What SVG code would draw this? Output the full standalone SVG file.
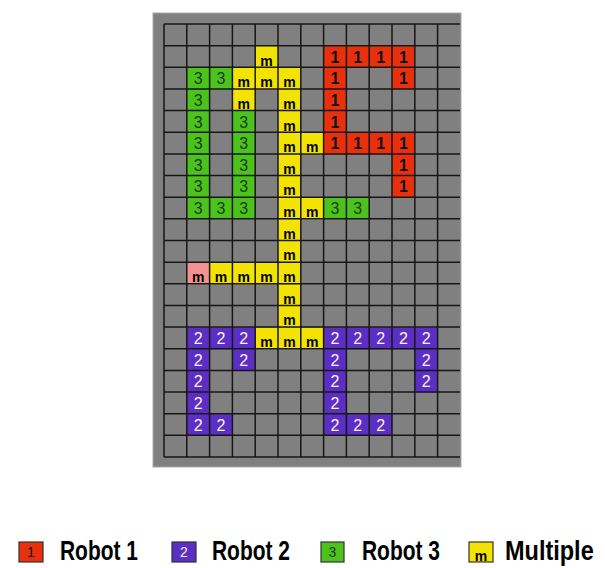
<svg xmlns="http://www.w3.org/2000/svg" width="605" height="568" viewBox="0 0 605 568">
<style>
.c rect{stroke:none}
.r1{fill:#e8300c}.r2{fill:#5b2fc4}.r3{fill:#4cc21c}.rm{fill:#f2e400}.rp{fill:#f49090}
.t{font-family:"Liberation Sans",Arial,sans-serif;font-size:16px;text-anchor:middle}
.t1{fill:#111;font-weight:bold}.t2{fill:#fff0f8}.t3{fill:#1d3a10}.tm{fill:#000;font-weight:bold;font-size:14px}
.grid line{stroke:#161616;stroke-width:1.5}
.lg{font-family:"Liberation Sans",Arial,sans-serif;font-weight:bold;font-size:27px;fill:#000}
.lb{stroke:#333;stroke-width:1.2}
.lt{font-family:"Liberation Sans",Arial,sans-serif;font-size:14px;text-anchor:middle}
</style>
<rect x="0" y="0" width="605" height="568" fill="#fff"/>
<rect id="frame" x="153" y="13" width="308" height="454" fill="#808080" stroke="#a8a8a8" stroke-width="1"/>
<g id="cells" transform="translate(164,24.5)">
<!-- Robot 1 -->
<g id="r1-7-1" class="c"><rect class="r1" x="159.6" y="21.65" width="22.8" height="21.65"/><text class="t t1" x="171" y="38">1</text></g>
<g id="r1-8-1" class="c"><rect class="r1" x="182.4" y="21.65" width="22.8" height="21.65"/><text class="t t1" x="193.8" y="38">1</text></g>
<g id="r1-9-1" class="c"><rect class="r1" x="205.2" y="21.65" width="22.8" height="21.65"/><text class="t t1" x="216.6" y="38">1</text></g>
<g id="r1-10-1" class="c"><rect class="r1" x="228" y="21.65" width="22.8" height="21.65"/><text class="t t1" x="239.4" y="38">1</text></g>
<g id="r1-7-2" class="c"><rect class="r1" x="159.6" y="43.3" width="22.8" height="21.65"/><text class="t t1" x="171" y="59.6">1</text></g>
<g id="r1-10-2" class="c"><rect class="r1" x="228" y="43.3" width="22.8" height="21.65"/><text class="t t1" x="239.4" y="59.6">1</text></g>
<g id="r1-7-3" class="c"><rect class="r1" x="159.6" y="64.95" width="22.8" height="21.65"/><text class="t t1" x="171" y="81.3">1</text></g>
<g id="r1-7-4" class="c"><rect class="r1" x="159.6" y="86.6" width="22.8" height="21.65"/><text class="t t1" x="171" y="103">1</text></g>
<g id="r1-7-5" class="c"><rect class="r1" x="159.6" y="108.25" width="22.8" height="21.65"/><text class="t t1" x="171" y="124.6">1</text></g>
<g id="r1-8-5" class="c"><rect class="r1" x="182.4" y="108.25" width="22.8" height="21.65"/><text class="t t1" x="193.8" y="124.6">1</text></g>
<g id="r1-9-5" class="c"><rect class="r1" x="205.2" y="108.25" width="22.8" height="21.65"/><text class="t t1" x="216.6" y="124.6">1</text></g>
<g id="r1-10-5" class="c"><rect class="r1" x="228" y="108.25" width="22.8" height="21.65"/><text class="t t1" x="239.4" y="124.6">1</text></g>
<g id="r1-10-6" class="c"><rect class="r1" x="228" y="129.9" width="22.8" height="21.65"/><text class="t t1" x="239.4" y="146.3">1</text></g>
<g id="r1-10-7" class="c"><rect class="r1" x="228" y="151.55" width="22.8" height="21.65"/><text class="t t1" x="239.4" y="167.9">1</text></g>
<!-- Robot 3 -->
<g id="r3-1-2" class="c"><rect class="r3" x="22.8" y="43.3" width="22.8" height="21.65"/><text class="t t3" x="34.2" y="59.6">3</text></g>
<g id="r3-2-2" class="c"><rect class="r3" x="45.6" y="43.3" width="22.8" height="21.65"/><text class="t t3" x="57" y="59.6">3</text></g>
<g id="r3-1-3" class="c"><rect class="r3" x="22.8" y="64.95" width="22.8" height="21.65"/><text class="t t3" x="34.2" y="81.3">3</text></g>
<g id="r3-1-4" class="c"><rect class="r3" x="22.8" y="86.6" width="22.8" height="21.65"/><text class="t t3" x="34.2" y="103">3</text></g>
<g id="r3-3-4" class="c"><rect class="r3" x="68.4" y="86.6" width="22.8" height="21.65"/><text class="t t3" x="79.8" y="103">3</text></g>
<g id="r3-1-5" class="c"><rect class="r3" x="22.8" y="108.25" width="22.8" height="21.65"/><text class="t t3" x="34.2" y="124.6">3</text></g>
<g id="r3-3-5" class="c"><rect class="r3" x="68.4" y="108.25" width="22.8" height="21.65"/><text class="t t3" x="79.8" y="124.6">3</text></g>
<g id="r3-1-6" class="c"><rect class="r3" x="22.8" y="129.9" width="22.8" height="21.65"/><text class="t t3" x="34.2" y="146.3">3</text></g>
<g id="r3-3-6" class="c"><rect class="r3" x="68.4" y="129.9" width="22.8" height="21.65"/><text class="t t3" x="79.8" y="146.3">3</text></g>
<g id="r3-1-7" class="c"><rect class="r3" x="22.8" y="151.55" width="22.8" height="21.65"/><text class="t t3" x="34.2" y="167.9">3</text></g>
<g id="r3-3-7" class="c"><rect class="r3" x="68.4" y="151.55" width="22.8" height="21.65"/><text class="t t3" x="79.8" y="167.9">3</text></g>
<g id="r3-1-8" class="c"><rect class="r3" x="22.8" y="173.2" width="22.8" height="21.65"/><text class="t t3" x="34.2" y="189.6">3</text></g>
<g id="r3-2-8" class="c"><rect class="r3" x="45.6" y="173.2" width="22.8" height="21.65"/><text class="t t3" x="57" y="189.6">3</text></g>
<g id="r3-3-8" class="c"><rect class="r3" x="68.4" y="173.2" width="22.8" height="21.65"/><text class="t t3" x="79.8" y="189.6">3</text></g>
<g id="r3-7-8" class="c"><rect class="r3" x="159.6" y="173.2" width="22.8" height="21.65"/><text class="t t3" x="171" y="189.6">3</text></g>
<g id="r3-8-8" class="c"><rect class="r3" x="182.4" y="173.2" width="22.8" height="21.65"/><text class="t t3" x="193.8" y="189.6">3</text></g>
<!-- Multiple -->
<g id="m-4-1" class="c"><rect class="rm" x="91.2" y="21.65" width="22.8" height="21.65"/><text class="t tm" x="102.6" y="41">m</text></g>
<g id="m-3-2" class="c"><rect class="rm" x="68.4" y="43.3" width="22.8" height="21.65"/><text class="t tm" x="79.8" y="62.6">m</text></g>
<g id="m-4-2" class="c"><rect class="rm" x="91.2" y="43.3" width="22.8" height="21.65"/><text class="t tm" x="102.6" y="62.6">m</text></g>
<g id="m-5-2" class="c"><rect class="rm" x="114" y="43.3" width="22.8" height="21.65"/><text class="t tm" x="125.4" y="62.6">m</text></g>
<g id="m-3-3" class="c"><rect class="rm" x="68.4" y="64.95" width="22.8" height="21.65"/><text class="t tm" x="79.8" y="84.3">m</text></g>
<g id="m-5-3" class="c"><rect class="rm" x="114" y="64.95" width="22.8" height="21.65"/><text class="t tm" x="125.4" y="84.3">m</text></g>
<g id="m-5-4" class="c"><rect class="rm" x="114" y="86.6" width="22.8" height="21.65"/><text class="t tm" x="125.4" y="106">m</text></g>
<g id="m-5-5" class="c"><rect class="rm" x="114" y="108.25" width="22.8" height="21.65"/><text class="t tm" x="125.4" y="127.6">m</text></g>
<g id="m-6-5" class="c"><rect class="rm" x="136.8" y="108.25" width="22.8" height="21.65"/><text class="t tm" x="148.2" y="127.6">m</text></g>
<g id="m-5-6" class="c"><rect class="rm" x="114" y="129.9" width="22.8" height="21.65"/><text class="t tm" x="125.4" y="149.3">m</text></g>
<g id="m-5-7" class="c"><rect class="rm" x="114" y="151.55" width="22.8" height="21.65"/><text class="t tm" x="125.4" y="170.9">m</text></g>
<g id="m-5-8" class="c"><rect class="rm" x="114" y="173.2" width="22.8" height="21.65"/><text class="t tm" x="125.4" y="192.6">m</text></g>
<g id="m-6-8" class="c"><rect class="rm" x="136.8" y="173.2" width="22.8" height="21.65"/><text class="t tm" x="148.2" y="192.6">m</text></g>
<g id="m-5-9" class="c"><rect class="rm" x="114" y="194.85" width="22.8" height="21.65"/><text class="t tm" x="125.4" y="214.2">m</text></g>
<g id="m-5-10" class="c"><rect class="rm" x="114" y="216.5" width="22.8" height="21.65"/><text class="t tm" x="125.4" y="235.9">m</text></g>
<g id="m-1-11" class="c"><rect class="rp" x="22.8" y="238.15" width="22.8" height="21.65"/><text class="t tm" x="34.2" y="257.5">m</text></g>
<g id="m-2-11" class="c"><rect class="rm" x="45.6" y="238.15" width="22.8" height="21.65"/><text class="t tm" x="57" y="257.5">m</text></g>
<g id="m-3-11" class="c"><rect class="rm" x="68.4" y="238.15" width="22.8" height="21.65"/><text class="t tm" x="79.8" y="257.5">m</text></g>
<g id="m-4-11" class="c"><rect class="rm" x="91.2" y="238.15" width="22.8" height="21.65"/><text class="t tm" x="102.6" y="257.5">m</text></g>
<g id="m-5-11" class="c"><rect class="rm" x="114" y="238.15" width="22.8" height="21.65"/><text class="t tm" x="125.4" y="257.5">m</text></g>
<g id="m-5-12" class="c"><rect class="rm" x="114" y="259.8" width="22.8" height="21.65"/><text class="t tm" x="125.4" y="279.2">m</text></g>
<g id="m-5-13" class="c"><rect class="rm" x="114" y="281.45" width="22.8" height="21.65"/><text class="t tm" x="125.4" y="300.8">m</text></g>
<g id="m-4-14" class="c"><rect class="rm" x="91.2" y="303.1" width="22.8" height="21.65"/><text class="t tm" x="102.6" y="322.5">m</text></g>
<g id="m-5-14" class="c"><rect class="rm" x="114" y="303.1" width="22.8" height="21.65"/><text class="t tm" x="125.4" y="322.5">m</text></g>
<g id="m-6-14" class="c"><rect class="rm" x="136.8" y="303.1" width="22.8" height="21.65"/><text class="t tm" x="148.2" y="322.5">m</text></g>
<!-- Robot 2 -->
<g id="r2-1-14" class="c"><rect class="r2" x="22.8" y="303.1" width="22.8" height="21.65"/><text class="t t2" x="34.2" y="319.5">2</text></g>
<g id="r2-2-14" class="c"><rect class="r2" x="45.6" y="303.1" width="22.8" height="21.65"/><text class="t t2" x="57" y="319.5">2</text></g>
<g id="r2-3-14" class="c"><rect class="r2" x="68.4" y="303.1" width="22.8" height="21.65"/><text class="t t2" x="79.8" y="319.5">2</text></g>
<g id="r2-1-15" class="c"><rect class="r2" x="22.8" y="324.75" width="22.8" height="21.65"/><text class="t t2" x="34.2" y="341.1">2</text></g>
<g id="r2-3-15" class="c"><rect class="r2" x="68.4" y="324.75" width="22.8" height="21.65"/><text class="t t2" x="79.8" y="341.1">2</text></g>
<g id="r2-1-16" class="c"><rect class="r2" x="22.8" y="346.4" width="22.8" height="21.65"/><text class="t t2" x="34.2" y="362.8">2</text></g>
<g id="r2-1-17" class="c"><rect class="r2" x="22.8" y="368.05" width="22.8" height="21.65"/><text class="t t2" x="34.2" y="384.4">2</text></g>
<g id="r2-1-18" class="c"><rect class="r2" x="22.8" y="389.7" width="22.8" height="21.65"/><text class="t t2" x="34.2" y="406.1">2</text></g>
<g id="r2-2-18" class="c"><rect class="r2" x="45.6" y="389.7" width="22.8" height="21.65"/><text class="t t2" x="57" y="406.1">2</text></g>
<g id="r2-7-14" class="c"><rect class="r2" x="159.6" y="303.1" width="22.8" height="21.65"/><text class="t t2" x="171" y="319.5">2</text></g>
<g id="r2-8-14" class="c"><rect class="r2" x="182.4" y="303.1" width="22.8" height="21.65"/><text class="t t2" x="193.8" y="319.5">2</text></g>
<g id="r2-9-14" class="c"><rect class="r2" x="205.2" y="303.1" width="22.8" height="21.65"/><text class="t t2" x="216.6" y="319.5">2</text></g>
<g id="r2-10-14" class="c"><rect class="r2" x="228" y="303.1" width="22.8" height="21.65"/><text class="t t2" x="239.4" y="319.5">2</text></g>
<g id="r2-11-14" class="c"><rect class="r2" x="250.8" y="303.1" width="22.8" height="21.65"/><text class="t t2" x="262.2" y="319.5">2</text></g>
<g id="r2-7-15" class="c"><rect class="r2" x="159.6" y="324.75" width="22.8" height="21.65"/><text class="t t2" x="171" y="341.1">2</text></g>
<g id="r2-11-15" class="c"><rect class="r2" x="250.8" y="324.75" width="22.8" height="21.65"/><text class="t t2" x="262.2" y="341.1">2</text></g>
<g id="r2-7-16" class="c"><rect class="r2" x="159.6" y="346.4" width="22.8" height="21.65"/><text class="t t2" x="171" y="362.8">2</text></g>
<g id="r2-11-16" class="c"><rect class="r2" x="250.8" y="346.4" width="22.8" height="21.65"/><text class="t t2" x="262.2" y="362.8">2</text></g>
<g id="r2-7-17" class="c"><rect class="r2" x="159.6" y="368.05" width="22.8" height="21.65"/><text class="t t2" x="171" y="384.4">2</text></g>
<g id="r2-7-18" class="c"><rect class="r2" x="159.6" y="389.7" width="22.8" height="21.65"/><text class="t t2" x="171" y="406.1">2</text></g>
<g id="r2-8-18" class="c"><rect class="r2" x="182.4" y="389.7" width="22.8" height="21.65"/><text class="t t2" x="193.8" y="406.1">2</text></g>
<g id="r2-9-18" class="c"><rect class="r2" x="205.2" y="389.7" width="22.8" height="21.65"/><text class="t t2" x="216.6" y="406.1">2</text></g>
</g>
<g id="connectors" class="grid">
<line x1="164" y1="24" x2="164" y2="457"/><line x1="186.8" y1="24" x2="186.8" y2="457"/><line x1="209.6" y1="24" x2="209.6" y2="457"/><line x1="232.4" y1="24" x2="232.4" y2="457"/><line x1="255.2" y1="24" x2="255.2" y2="457"/><line x1="278" y1="24" x2="278" y2="457"/><line x1="300.8" y1="24" x2="300.8" y2="457"/><line x1="323.6" y1="24" x2="323.6" y2="457"/><line x1="346.4" y1="24" x2="346.4" y2="457"/><line x1="369.2" y1="24" x2="369.2" y2="457"/><line x1="392" y1="24" x2="392" y2="457"/><line x1="414.8" y1="24" x2="414.8" y2="457"/><line x1="437.6" y1="24" x2="437.6" y2="457"/>
<line x1="164" y1="24" x2="460" y2="24"/><line x1="164" y1="45.65" x2="460" y2="45.65"/><line x1="164" y1="67.3" x2="460" y2="67.3"/><line x1="164" y1="88.95" x2="460" y2="88.95"/><line x1="164" y1="110.6" x2="460" y2="110.6"/><line x1="164" y1="132.25" x2="460" y2="132.25"/><line x1="164" y1="153.9" x2="460" y2="153.9"/><line x1="164" y1="175.55" x2="460" y2="175.55"/><line x1="164" y1="197.2" x2="460" y2="197.2"/><line x1="164" y1="218.85" x2="460" y2="218.85"/><line x1="164" y1="240.5" x2="460" y2="240.5"/><line x1="164" y1="262.15" x2="460" y2="262.15"/><line x1="164" y1="283.8" x2="460" y2="283.8"/><line x1="164" y1="305.45" x2="460" y2="305.45"/><line x1="164" y1="327.1" x2="460" y2="327.1"/><line x1="164" y1="348.75" x2="460" y2="348.75"/><line x1="164" y1="370.4" x2="460" y2="370.4"/><line x1="164" y1="392.05" x2="460" y2="392.05"/><line x1="164" y1="413.7" x2="460" y2="413.7"/><line x1="164" y1="435.35" x2="460" y2="435.35"/><line x1="164" y1="457" x2="460" y2="457"/>
</g>
<g id="legend">
<g id="leg1"><rect class="lb" x="19" y="542" width="24" height="20" fill="#e8300c"/><text class="lt" x="31" y="557" fill="#111">1</text><text class="lg" transform="translate(60,560) scale(0.776,1)">Robot 1</text></g>
<g id="leg2"><rect class="lb" x="172" y="542" width="24" height="20" fill="#5b2fc4"/><text class="lt" x="184" y="557" fill="#fff0f8">2</text><text class="lg" transform="translate(212,560) scale(0.776,1)">Robot 2</text></g>
<g id="leg3"><rect class="lb" x="321" y="542" width="23" height="20" fill="#4cc21c"/><text class="lt" x="332.5" y="557" fill="#1d3a10">3</text><text class="lg" transform="translate(362,560) scale(0.776,1)">Robot 3</text></g>
<g id="leg4"><rect class="lb" x="469" y="542" width="24" height="20" fill="#f2e400"/><text class="lt" x="481" y="561" fill="#000" font-weight="bold">m</text><text class="lg" transform="translate(505,560) scale(0.87,1)">Multiple</text></g>
</g>
</svg>
